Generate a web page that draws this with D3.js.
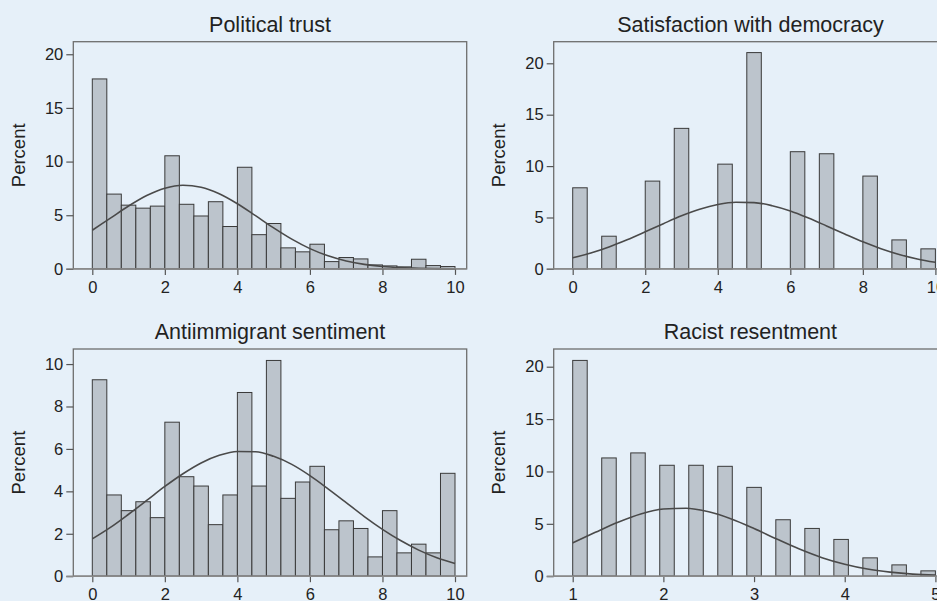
<!DOCTYPE html>
<html>
<head>
<meta charset="utf-8">
<script src="https://cdn.jsdelivr.net/npm/d3@7"></script>
<style>
  body { margin: 0; background: #e6f0f9; }
  svg { display: block; font-family: "Liberation Sans", Arial, Helvetica, sans-serif; }
</style>
</head>
<body>
<svg width="937" height="601"></svg>
<script>
// ---- data (percent per bin, bin left edges) ----
var trustEdges = [0,0.4,0.8,1.2,1.6,2,2.4,2.8,3.2,3.6,4,4.4,4.8,5.2,5.6,6,6.4,6.8,7.2,7.6,8,8.4,8.8,9.2,9.6];
var trustPct   = [17.7,6.97,5.94,5.66,5.85,10.54,6.02,4.93,6.26,3.95,9.47,3.19,4.23,1.96,1.59,2.3,0.68,1.06,0.93,0.37,0.28,0.19,0.9,0.31,0.22];

var satEdges = [0,0.8,2,2.8,4,4.8,6,6.8,8,8.8,9.6];
var satPct   = [7.89,3.18,8.54,13.67,10.19,21.04,11.4,11.2,9.03,2.82,1.95];

var antiEdges = [0,0.4,0.8,1.2,1.6,2,2.4,2.8,3.2,3.6,4,4.4,4.8,5.2,5.6,6,6.4,6.8,7.2,7.6,8,8.4,8.8,9.2,9.6];
var antiPct   = [9.26,3.83,3.09,3.51,2.76,7.26,4.69,4.25,2.43,3.83,8.66,4.25,10.17,3.67,4.44,5.18,2.19,2.61,2.25,0.91,3.09,1.1,1.51,1.1,4.85];

var raceEdges = [1,1.32,1.64,1.96,2.28,2.6,2.92,3.24,3.56,3.88,4.2,4.52,4.84];
var racePct   = [20.6,11.29,11.77,10.59,10.59,10.49,8.48,5.39,4.56,3.51,1.75,1.08,0.51];

// normal density overlays
var curveX10 = [0,0.5,1,1.5,2,2.5,3,3.5,4,4.5,5,5.5,6,6.5,7,7.5,8,8.5,9,9.5,10];
var trustCurve = [3.6,4.73,5.86,6.84,7.52,7.8,7.61,7.0,6.07,4.96,3.82,2.77,1.89,1.22,0.74,0.42,0.23,0.12,0.06,0.03,0.01];
var satCurve   = [1.08,1.55,2.14,2.84,3.61,4.4,5.16,5.8,6.26,6.48,6.45,6.15,5.64,4.95,4.18,3.39,2.63,1.97,1.41,0.97,0.64];
var antiCurve  = [1.76,2.3,2.92,3.57,4.23,4.83,5.34,5.7,5.88,5.87,5.65,5.27,4.74,4.12,3.47,2.81,2.21,1.68,1.23,0.87,0.6];
var curveX5 = [1,1.25,1.5,1.75,2,2.25,2.5,2.75,3,3.25,3.5,3.75,4,4.25,4.5,4.75,5];
var raceCurve  = [3.19,4.19,5.15,5.94,6.41,6.49,6.15,5.46,4.55,3.55,2.59,1.77,1.14,0.68,0.39,0.2,0.1];

var ticks10 = [0,2,4,6,8,10];
var ticks5 = [1,2,3,4,5];
var yTicks20 = [0,5,10,15,20];
var yTicks10 = [0,2,4,6,8,10];

var panels = [
  {title: "Political trust", ox: 0, top: 41.7, edges: trustEdges, pct: trustPct, w: 0.4,
   cx: curveX10, cy: trustCurve, xDom: [0,10], xTicks: ticks10, yMax: 21.17, yTicks: yTicks20},
  {title: "Satisfaction with democracy", ox: 480.4, top: 41.7, edges: satEdges, pct: satPct, w: 0.4,
   cx: curveX10, cy: satCurve, xDom: [0,10], xTicks: ticks10, yMax: 22.1, yTicks: yTicks20},
  {title: "Antiimmigrant sentiment", ox: 0, top: 349, edges: antiEdges, pct: antiPct, w: 0.4,
   cx: curveX10, cy: antiCurve, xDom: [0,10], xTicks: ticks10, yMax: 10.71, yTicks: yTicks10},
  {title: "Racist resentment", ox: 480.4, top: 349, edges: raceEdges, pct: racePct, w: 0.16,
   cx: curveX5, cy: raceCurve, xDom: [1,5], xTicks: ticks5, yMax: 21.69, yTicks: yTicks20}
];

var svg = d3.select("svg");
var frameW = 393.4, frameH = 227.2;

panels.forEach(function(p) {
  var fl = p.ox + 73.3, fr = fl + frameW, ft = p.top, fb = ft + frameH;
  var x = d3.scaleLinear().domain(p.xDom).range([fl + 19, fr - 11.7]);
  var y = d3.scaleLinear().domain([0, p.yMax]).range([fb, ft]);
  var g = svg.append("g");

  // bars
  g.selectAll("rect.bar")
    .data(p.edges)
    .enter().append("rect")
      .attr("class", "bar")
      .attr("x", function(d) { return x(d); })
      .attr("width", function(d) { return x(d + p.w) - x(d); })
      .attr("y", function(d, i) { return y(p.pct[i]); })
      .attr("height", function(d, i) { return y(0) - y(p.pct[i]); })
      .attr("fill", "#bcc4cc")
      .attr("stroke", "#3a3a3a")
      .attr("stroke-width", 1);

  // normal curve
  var line = d3.line()
    .x(function(d, i) { return x(p.cx[i]); })
    .y(function(d) { return y(d); })
    .curve(d3.curveMonotoneX);
  g.append("path")
    .datum(p.cy)
    .attr("d", line)
    .attr("fill", "none")
    .attr("stroke", "#4a4a4a")
    .attr("stroke-width", 1.6);

  // frame
  g.append("rect")
    .attr("x", fl).attr("y", ft)
    .attr("width", frameW).attr("height", frameH)
    .attr("fill", "none")
    .attr("stroke", "#6e6e6e")
    .attr("stroke-width", 1.3);

  // axes
  var ya = g.append("g")
    .attr("transform", "translate(" + fl + ",0)")
    .call(d3.axisLeft(y).tickValues(p.yTicks).tickSize(7).tickPadding(3));
  var xa = g.append("g")
    .attr("transform", "translate(0," + fb + ")")
    .call(d3.axisBottom(x).tickValues(p.xTicks).tickFormat(d3.format("d"))
      .tickSize(6).tickPadding(6.3));
  [ya, xa].forEach(function(a) {
    a.select(".domain").remove();
    a.selectAll(".tick line").attr("stroke", "#555").attr("stroke-width", 1.2);
    a.selectAll(".tick text").attr("fill", "#222").style("font-size", "16.5px");
  });
  // x axis line, extended to meet the y tick at 0
  g.append("line")
    .attr("x1", fl - 7).attr("x2", fr)
    .attr("y1", fb).attr("y2", fb)
    .attr("stroke", "#8a8a8a")
    .attr("stroke-width", 1.4);

  // titles
  g.append("text")
    .attr("x", (fl + fr) / 2)
    .attr("y", ft - 10)
    .attr("text-anchor", "middle")
    .attr("fill", "#222")
    .style("font-size", "21.5px")
    .text(p.title);
  g.append("text")
    .attr("transform", "translate(" + (p.ox + 24.5) + "," + ((ft + fb) / 2) + ") rotate(-90)")
    .attr("text-anchor", "middle")
    .attr("fill", "#222")
    .style("font-size", "18.5px")
    .text("Percent");
});
</script>
</body>
</html>
